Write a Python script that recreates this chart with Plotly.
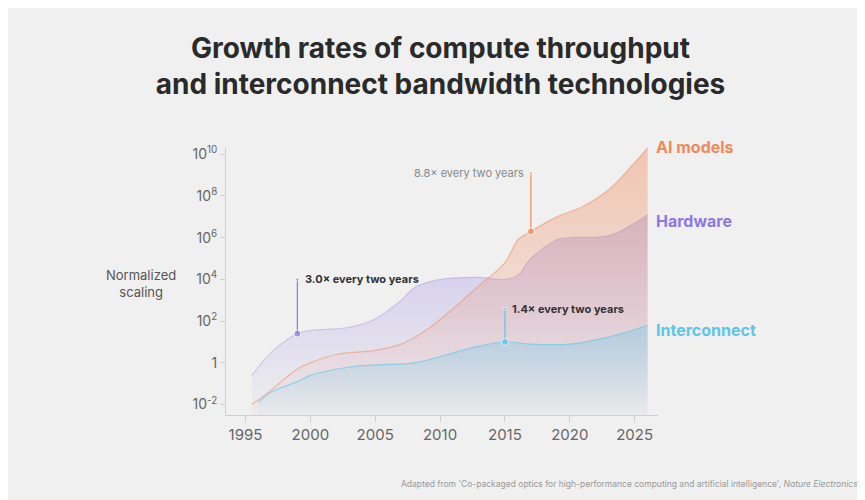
import plotly.graph_objects as go

hw_years = [1995.5, 1997, 1999, 2000, 2003, 2005, 2007, 2008, 2010, 2013, 2015, 2016, 2017, 2019, 2020, 2023, 2025, 2026]
hw_exp = [-0.6, 0.5, 1.4, 1.55, 1.7, 2.1, 3.0, 3.6, 4.0, 4.1, 4.0, 4.2, 5.0, 5.9, 6.0, 6.1, 6.7, 7.1]
ai_years = [1995.5, 1997, 1999, 2000, 2002, 2005, 2007, 2009, 2011, 2013, 2015, 2016, 2017, 2019, 2021, 2023, 2025, 2026]
ai_exp = [-2.0, -1.3, -0.3, 0.0, 0.4, 0.6, 0.9, 1.6, 2.6, 3.7, 4.8, 5.9, 6.3, 7.0, 7.5, 8.3, 9.6, 10.3]
ic_years = [1996, 1997, 1999, 2000, 2003, 2005, 2008, 2010, 2013, 2015, 2017, 2020, 2022, 2024, 2026]
ic_exp = [-1.9, -1.4, -0.9, -0.6, -0.2, -0.1, 0.0, 0.3, 0.8, 1.0, 0.9, 0.9, 1.1, 1.4, 1.8]
ytick_exp = [-2, 0, 2, 4, 6, 8, 10]
ytick_text = ["10<sup>-2</sup>", "1", "10<sup>2</sup>", "10<sup>4</sup>", "10<sup>6</sup>", "10<sup>8</sup>", "10<sup>10</sup>"]
xticks = [1995, 2000, 2005, 2010, 2015, 2020, 2025]

BASE = 10 ** -2.5
ORANGE, PURPLE, BLUE = "#F2895A", "#8E78E0", "#5BC6EC"
L, R, T, B = 218, 215, 140, 93

def val(e):
    return [10 ** v for v in e]

fig = go.Figure()

def area(xs, es, color, rgba_top, rgba_bot):
    fig.add_trace(go.Scatter(x=xs, y=[BASE] * len(xs), mode="lines", line=dict(width=0),
                             showlegend=False, hoverinfo="skip"))
    fig.add_trace(go.Scatter(x=xs, y=val(es), mode="lines", line=dict(color=color, width=1.2, shape="spline"),
                             fill="tonexty",
                             fillgradient=dict(type="vertical", colorscale=[[0, rgba_bot], [1, rgba_top]]),
                             showlegend=False, hoverinfo="skip"))

area(hw_years, hw_exp, "rgba(142,120,224,0.3)", "rgba(142,120,224,0.35)", "rgba(142,120,224,0.02)")
area(ai_years, ai_exp, "rgba(242,137,90,0.5)", "rgba(242,137,90,0.42)", "rgba(242,137,90,0.02)")
area(ic_years, ic_exp, "rgba(91,198,236,0.6)", "rgba(91,198,236,0.35)", "rgba(91,198,236,0.03)")

stems = [(1999, 1.4, 4.0, PURPLE), (2017, 6.3, 9.1, ORANGE), (2015, 1.0, 2.6, BLUE)]
for x, lo, hi, c in stems:
    fig.add_trace(go.Scatter(x=[x, x], y=[10 ** lo, 10 ** hi], mode="lines+markers",
                             line=dict(color=c, width=1.2), marker=dict(color=c, size=[7, 3]),
                             showlegend=False, hoverinfo="skip"))

fig.update_layout(
    width=865, height=500, paper_bgcolor="#F0F0F0", plot_bgcolor="rgba(0,0,0,0)",
    margin=dict(l=L, r=R, t=T, b=B),
    font=dict(family="Inter", color="#444"),
    title=dict(text="<b>Growth rates of compute throughput<br>and interconnect bandwidth technologies</b>",
               x=0.5, xanchor="center", y=0.9, yanchor="top",
               font=dict(size=28, color="#2a2a2a", family="Inter")),
    xaxis=dict(range=[1993.5, 2026.8], tickvals=xticks, showgrid=False, zeroline=False,
               showline=True, linecolor="#d0d0d0", ticks="outside", tickcolor="#d0d0d0", ticklen=6,
               tickfont=dict(size=15, color="#666")),
    yaxis=dict(type="log", range=[-2.5, 10.3], tickvals=[10 ** e for e in ytick_exp], ticktext=ytick_text,
               showgrid=False, zeroline=False, showline=True, linecolor="#d0d0d0",
               ticks="outside", tickcolor="#d0d0d0", ticklen=5, tickfont=dict(size=14, color="#666")),
)

ann = [
    dict(x=1999.4, y=4.0, text="<b>3.0× every two years</b>", font=dict(size=11, color="#333"), xanchor="left"),
    dict(x=2016.6, y=9.1, text="8.8× every two years", font=dict(size=11, color="#888"), xanchor="right"),
    dict(x=2015.4, y=2.6, text="<b>1.4× every two years</b>", font=dict(size=11, color="#333"), xanchor="left"),
]
for a in ann:
    fig.add_annotation(x=a["x"], y=a["y"], text=a["text"], showarrow=False, xanchor=a["xanchor"],
                       yanchor="middle", font=a["font"])

plot_w, plot_h = 865 - L - R, 500 - T - B
for t, yy, c in [("AI models", 139, ORANGE), ("Hardware", 213, PURPLE), ("Interconnect", 322, BLUE)]:
    fig.add_annotation(x=(646 - L) / plot_w, y=(500 - B - yy) / plot_h, xref="paper", yref="paper",
                       text="<b>" + t + "</b>", showarrow=False, xanchor="left", yanchor="middle",
                       font=dict(size=16, color=c))

fig.add_annotation(x=(133 - L) / plot_w, y=(500 - B - 275) / plot_h, xref="paper", yref="paper",
                   text="Normalized<br>scaling", showarrow=False, xanchor="center", yanchor="middle",
                   font=dict(size=13, color="#555"))
fig.add_annotation(x=(852 - L) / plot_w, y=(500 - B - 476) / plot_h, xref="paper", yref="paper",
                   text="Adapted from 'Co-packaged optics for high-performance computing and artificial intelligence', <i>Nature Electronics</i>",
                   showarrow=False, xanchor="right", yanchor="middle", font=dict(size=8.5, color="#999"))

fig.write_html("out.html")
